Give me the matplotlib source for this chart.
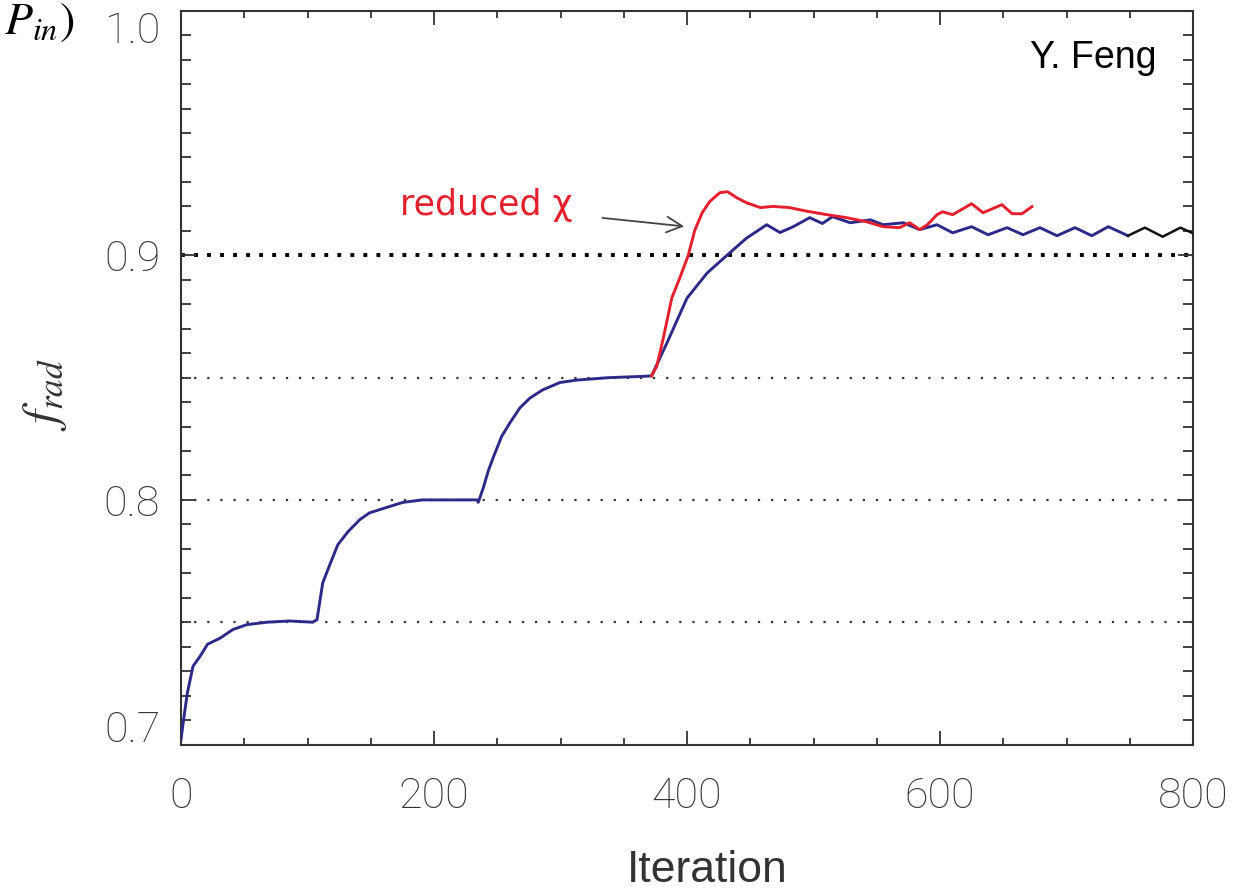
import matplotlib
matplotlib.use("Agg")
import matplotlib.pyplot as plt
from matplotlib.transforms import ScaledTranslation

# ---------------- data ----------------
blue_x = [0, 2, 5, 9.5, 15, 21, 31, 41, 52, 68, 86, 104, 107.5, 112, 118, 124,
          132, 141.5, 149, 163, 175.5, 191, 210, 234, 235, 239, 243, 247, 253.5,
          260, 268, 276, 286, 299.6, 313, 339, 365, 372, 384, 400, 416, 431.6,
          447, 463, 473.5, 484, 497, 507, 515, 529, 545, 555, 571, 584, 597.6,
          610, 625, 638, 653, 665.6, 679, 692.5, 706.7, 720, 733, 748.6]
blue_y = [0.702, 0.710, 0.721, 0.732, 0.736, 0.741, 0.7435, 0.747, 0.749, 0.750,
          0.7505, 0.750, 0.751, 0.766, 0.774, 0.7817, 0.787, 0.792, 0.7947, 0.797,
          0.799, 0.800, 0.800, 0.800, 0.799, 0.805, 0.812, 0.8176, 0.826, 0.8315,
          0.8377, 0.8417, 0.845, 0.848, 0.849, 0.850, 0.8505, 0.8507, 0.864,
          0.8825, 0.8928, 0.900, 0.907, 0.9125, 0.9093, 0.9117, 0.9154, 0.913,
          0.9158, 0.9133, 0.9145, 0.9125, 0.9133, 0.9105, 0.9125, 0.9092, 0.9117,
          0.9084, 0.9113, 0.9084, 0.9113, 0.908, 0.9113, 0.908, 0.9117, 0.908]

black_x = [748.6, 762, 776, 790, 800]
black_y = [0.908, 0.9113, 0.9076, 0.9113, 0.909]

red_x = [372, 376, 381, 388, 394.5, 401, 406, 412, 418, 426, 432, 439.5, 447,
         458, 468, 481, 495, 510.7, 526, 542, 555, 568, 576, 584, 590, 597.6,
         602, 610, 625, 634, 649, 657, 664.8, 672.7]
red_y = [0.8507, 0.8545, 0.8655, 0.8826, 0.891, 0.900, 0.910, 0.9174, 0.922,
         0.9256, 0.926, 0.9235, 0.9215, 0.9195, 0.920, 0.9195, 0.918, 0.9166,
         0.9154, 0.9137, 0.9117, 0.9113, 0.9133, 0.9105, 0.9125, 0.9166, 0.9178,
         0.9166, 0.9211, 0.9174, 0.9207, 0.917, 0.917, 0.9199]

ref_levels = [0.75, 0.80, 0.85, 0.90]
x_ticks = [0, 200, 400, 600, 800]
x_ticklabels = ["0", "200", "400", "600", "800"]
y_ticks = [0.7, 0.8, 0.9, 1.0]
y_ticklabels = ["0.7", "0.8", "0.9", "1.0"]

# ---------------- figure ----------------
plt.rcParams["mathtext.fontset"] = "stix"
W, H, DPI = 1258, 892, 100
fig = plt.figure(figsize=(W / DPI, H / DPI), dpi=DPI)
ax = fig.add_axes([181 / W, 1 - 744.5 / H, (1193 - 181) / W, (744.5 - 10.7) / H])

ink = "#333333"
for lvl in ref_levels:
    if lvl == 0.90:
        ax.axhline(lvl, color="black", lw=2.8, dashes=(1, 2.35), zorder=1)
    else:
        ax.axhline(lvl, color=ink, lw=1.6, dashes=(1, 4.9), zorder=1)

ax.plot(blue_x, blue_y, color="#2c2a88", lw=2.1, zorder=3)
ax.plot(black_x, black_y, color="#111111", lw=1.8, zorder=3)
ax.plot(red_x, red_y, color="#e3202b", lw=2.1, zorder=4)

ax.set_xlim(0, 800)
ax.set_ylim(0.7, 1.0)

ax.set_xticks(x_ticks)
ax.set_xticklabels(x_ticklabels)
ax.set_xticks(range(0, 801, 50), minor=True)
ax.set_yticks(y_ticks)
ax.set_yticklabels(y_ticklabels)
ax.set_yticks([v / 100 for v in range(70, 101)], minor=True)

for lab in ax.get_xticklabels() + ax.get_yticklabels():
    lab.set_fontfamily("Roboto")
    lab.set_fontweight("light")
    lab.set_fontsize(31)
    lab.set_color("#333333")

ax.tick_params(which="both", direction="in", top=True, right=True,
               color=ink, width=1.3)
ax.tick_params(axis="x", which="major", length=10, pad=23)
ax.tick_params(axis="x", which="minor", length=5)
ax.tick_params(axis="y", which="major", length=11, pad=15)
ax.tick_params(axis="y", which="minor", length=7)
for s in ax.spines.values():
    s.set_color(ink)
    s.set_linewidth(1.5)

# shift end y-labels as in the original
yt = ax.yaxis.get_major_ticks()
yt[0].label1.set_transform(yt[0].label1.get_transform()
                           + ScaledTranslation(0, 18 / DPI, fig.dpi_scale_trans))
yt[-1].label1.set_transform(yt[-1].label1.get_transform()
                            + ScaledTranslation(0, -16 / DPI, fig.dpi_scale_trans))

# annotation
ax.annotate("", xy=(400, 0.9117), xytext=(331, 0.9154),
            arrowprops=dict(arrowstyle="->", color="#444444", lw=1.3,
                            mutation_scale=28))
ax.text(173, 0.9166, "reduced χ", color="#e3202b", fontsize=25,
        family="DejaVu Sans", ha="left", va="baseline", zorder=5)

# labels
fig.text(707 / W, 0.5 / H, "Iteration", family="Liberation Sans",
         fontsize=32, color=ink, ha="center", va="bottom")
fig.text(45 / W, 1 - 395 / H, r"$f_{rad}$", fontsize=36, color=ink,
         rotation=90, ha="center", va="center")
fig.text(74 / W, 1 - 34 / H, r"$P_{in})$", fontsize=33, color="black",
         ha="right", va="baseline")
fig.text(1157 / W, 1 - 68 / H, "Y. Feng", family="Liberation Sans",
         fontsize=27, color="black", ha="right", va="baseline")

fig.savefig("out.png", dpi=DPI)
